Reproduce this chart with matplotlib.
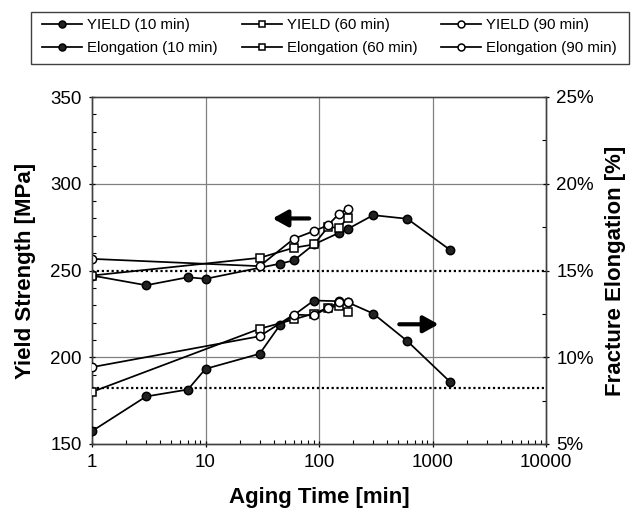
import matplotlib
matplotlib.use("Agg")
import matplotlib.pyplot as plt
from matplotlib.patches import Rectangle
from matplotlib.ticker import FixedLocator, FuncFormatter, MultipleLocator

plt.rcParams['font.family'] = ['Liberation Sans', 'DejaVu Sans']

# ---- data ----
t_y10 = [1, 3, 7, 10, 45, 60, 90, 150, 180, 300, 600, 1440]
yield_10 = [247.1, 241.5, 246.1, 245.2, 253.9, 255.8, 265, 271.7, 274, 281.9, 279.8, 261.7]
t_y60 = [1, 30, 60, 90, 120, 150, 180]
yield_60 = [247.1, 257.3, 263.1, 265, 275, 274.6, 280.4]
t_y90 = [1, 30, 60, 90, 120, 150, 180]
yield_90 = [256.7, 252.5, 268.3, 272.7, 276.1, 282.7, 285.7]

t_e10 = [1, 3, 7, 10, 30, 45, 90, 150, 180, 300, 600, 1440]
elong_10 = [5.74, 7.74, 8.14, 9.33, 10.2, 11.83, 13.27, 13.23, 13.16, 12.52, 10.93, 8.56]
t_e60 = [1, 30, 60, 90, 120, 150, 180]
elong_60 = [8.0, 11.64, 12.18, 12.52, 12.85, 12.97, 12.6]
t_e90 = [1, 30, 60, 90, 120, 150, 180]
elong_90 = [9.43, 11.21, 12.46, 12.41, 12.85, 13.17, 13.17]

yield_ref = 250
elong_ref = 8.25

x_ticks = [1, 10, 100, 1000, 10000]
x_labels = ['1', '10', '100', '1000', '10000']

# ---- figure ----
fig = plt.figure(figsize=(6.36, 5.17), dpi=100)
ax = fig.add_axes([92/636, 1-444/517, (546-92)/636, (444-97)/517])
ax2 = ax.twinx()

ax.set_xscale('log')
ax.set_xlim(1, 10000)
ax.set_ylim(150, 350)
ax2.set_ylim(5, 25)

grid_c = '#808080'
for xv in [10, 100, 1000]:
    ax.axvline(xv, color=grid_c, lw=0.9, zorder=0)
for yv in [200, 300]:
    ax.axhline(yv, color=grid_c, lw=0.9, zorder=0)
ax.axhline(yield_ref, color='black', lw=1.6, ls=(0, (1, 1.2)), zorder=1)
ax2.axhline(elong_ref, color='black', lw=1.6, ls=(0, (1, 1.2)), zorder=1)

mk = dict(color='black', lw=1.25, markersize=6, markeredgewidth=1.1, zorder=3)
l1, = ax.plot(t_y10, yield_10, marker='o', markerfacecolor='#222222', markeredgecolor='black', label='YIELD (10 min)', **mk)
l2, = ax.plot(t_y60, yield_60, marker='s', markerfacecolor='white', markeredgecolor='black', label='YIELD (60 min)', **mk)
l3, = ax.plot(t_y90, yield_90, marker='o', markerfacecolor='white', markeredgecolor='black', label='YIELD (90 min)', **mk)
l4, = ax2.plot(t_e10, elong_10, marker='o', markerfacecolor='#222222', markeredgecolor='black', label='Elongation (10 min)', **mk)
l5, = ax2.plot(t_e60, elong_60, marker='s', markerfacecolor='white', markeredgecolor='black', label='Elongation (60 min)', **mk)
l6, = ax2.plot(t_e90, elong_90, marker='o', markerfacecolor='white', markeredgecolor='black', label='Elongation (90 min)', **mk)

# arrows
arr = dict(arrowstyle='-|>,head_length=0.9,head_width=0.5', lw=3, color='black',
           shrinkA=0, shrinkB=0, mutation_scale=10)
ax.annotate('', xy=(39, 280), xytext=(82, 280), arrowprops=arr)
ax2.annotate('', xy=(1130, 11.9), xytext=(510, 11.9), arrowprops=arr)

# ticks
ax.xaxis.set_major_locator(FixedLocator(x_ticks))
ax.set_xticklabels(x_labels)
ax.yaxis.set_major_locator(MultipleLocator(50))
ax.yaxis.set_minor_locator(MultipleLocator(10))
ax2.yaxis.set_major_locator(MultipleLocator(5))
ax2.yaxis.set_minor_locator(MultipleLocator(2.5))
ax2.yaxis.set_major_formatter(FuncFormatter(lambda v, p: f'{v:.0f}%'))

for a in (ax, ax2):
    a.tick_params(which='major', length=5, width=0.9, labelsize=13.5, colors='black', direction='inout')
    a.tick_params(which='minor', length=3, width=0.8, direction='in')
    for s in a.spines.values():
        s.set_color('#404040')
        s.set_linewidth(1.0)
ax.spines['top'].set_color(grid_c)
ax.tick_params(axis='x', which='major', pad=5)
ax.tick_params(axis='y', which='major', pad=5)
ax2.tick_params(axis='y', which='major', pad=5)

ax.set_xlabel('Aging Time [min]', fontsize=16, fontweight='bold', labelpad=11)
ax.set_ylabel('Yield Strength [MPa]', fontsize=16, fontweight='bold', labelpad=10)
ax2.set_ylabel('Fracture Elongation [%]', fontsize=16, fontweight='bold', labelpad=8)

# legend
handles = [l1, l4, l2, l5, l3, l6]
leg = fig.legend(handles=handles, labels=[h.get_label() for h in handles], ncol=3,
                 loc='upper left', bbox_to_anchor=(42/636, 1-18/517), frameon=False,
                 fontsize=10.8, handlelength=2.67, columnspacing=1.6, handletextpad=0.33,
                 labelspacing=0.6, borderaxespad=0, borderpad=0)
for h in leg.legend_handles:
    h.set_markersize(5)
fig.patches.append(Rectangle((31/636, 1-64/517), (629-31)/636, 52/517, transform=fig.transFigure,
                             fill=False, edgecolor='#404040', lw=1.0))

fig.savefig('out.png', dpi=100)
